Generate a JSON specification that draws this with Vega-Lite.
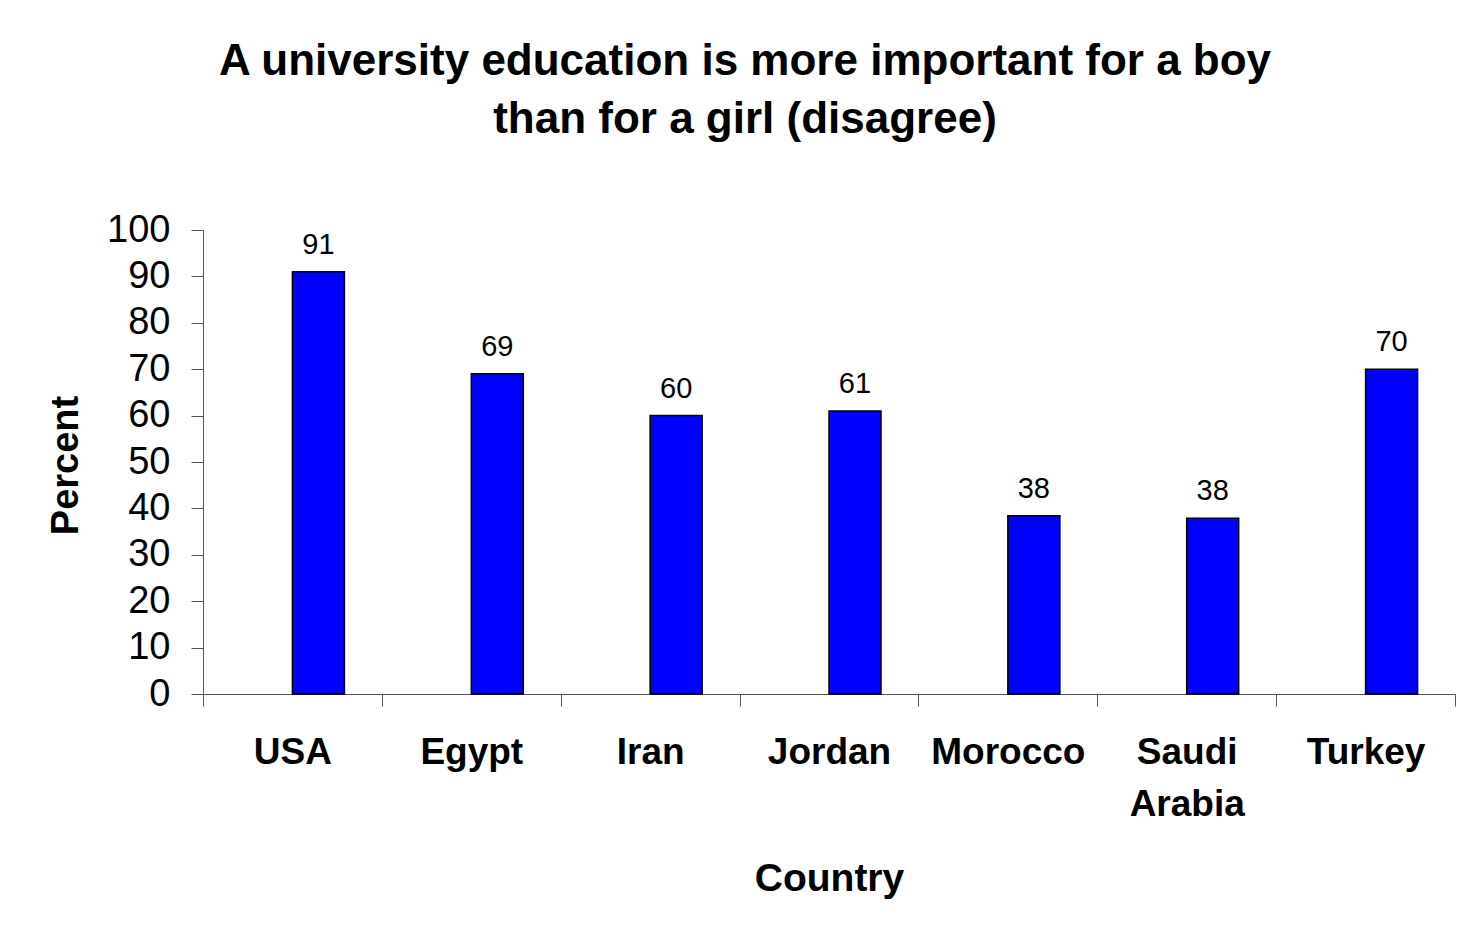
{
  "$schema": "https://vega.github.io/schema/vega-lite/v6.json",
  "autosize": "none",
  "width": 1252,
  "height": 464,
  "padding": {"left": 203, "top": 230, "right": 7, "bottom": 236},
  "background": "white",
  "config": {
    "font": "Liberation Sans",
    "view": {"stroke": null}
  },
  "title": {
    "text": ["A university education is more important for a boy", "than for a girl (disagree)"],
    "font": "Liberation Sans",
    "fontSize": 44,
    "fontWeight": "bold",
    "color": "black",
    "anchor": "middle",
    "baseline": "alphabetic",
    "lineHeight": 58,
    "offset": 34,
    "dx": -84
  },
  "data": {
    "values": [
      {"Country": "USA", "Percent": 91},
      {"Country": "Egypt", "Percent": 69},
      {"Country": "Iran", "Percent": 60},
      {"Country": "Jordan", "Percent": 61},
      {"Country": "Morocco", "Percent": 38.4},
      {"Country": "Saudi Arabia", "Percent": 37.9},
      {"Country": "Turkey", "Percent": 70}
    ]
  },
  "encoding": {
    "x": {
      "field": "Country",
      "type": "nominal",
      "sort": null,
      "scale": {"paddingInner": 0, "paddingOuter": 0},
      "axis": {
        "title": "Country",
        "titleFont": "Liberation Sans",
        "titleFontSize": 39,
        "titleFontWeight": "bold",
        "titleColor": "black",
        "titleX": 626,
        "titleY": 184,
        "titleBaseline": "middle",
        "titleAnchor": "middle",
        "labelAngle": 0,
        "labelFont": "Liberation Sans",
        "labelFontSize": 37,
        "labelFontWeight": "bold",
        "labelColor": "black",
        "labelPadding": 28,
        "labelLineHeight": 52,
        "labelExpr": "datum.value == 'Saudi Arabia' ? ['Saudi', 'Arabia'] : datum.value",
        "tickBand": "extent",
        "tickSize": 12,
        "tickColor": "#555555",
        "domainColor": "#555555",
        "tickWidth": 1,
        "domainWidth": 1,
        "grid": false
      }
    },
    "xOffset": {
      "datum": "Percent",
      "scale": {"domain": ["blank", "Percent"], "paddingInner": 0, "paddingOuter": 0.72}
    },
    "y": {
      "field": "Percent",
      "type": "quantitative",
      "scale": {"domain": [0, 100], "nice": false},
      "axis": {
        "title": "Percent",
        "titleFont": "Liberation Sans",
        "titleFontSize": 38,
        "titleFontWeight": "bold",
        "titleColor": "black",
        "titleAngle": -90,
        "titleX": -137,
        "titleY": 235,
        "titleBaseline": "middle",
        "titleAnchor": "middle",
        "values": [0, 10, 20, 30, 40, 50, 60, 70, 80, 90, 100],
        "labelFont": "Liberation Sans",
        "labelFontSize": 38,
        "labelColor": "black",
        "labelPadding": 21,
        "tickSize": 12,
        "tickColor": "#555555",
        "domainColor": "#555555",
        "grid": false
      }
    }
  },
  "layer": [
    {
      "mark": {"type": "bar", "fill": "#0000FF", "stroke": "black", "strokeWidth": 1.5}
    },
    {
      "mark": {"type": "text", "font": "Liberation Sans", "fontSize": 29, "color": "black", "baseline": "alphabetic", "dy": -18},
      "encoding": {
        "text": {"field": "Percent", "type": "quantitative", "format": ".0f"}
      }
    }
  ]
}
